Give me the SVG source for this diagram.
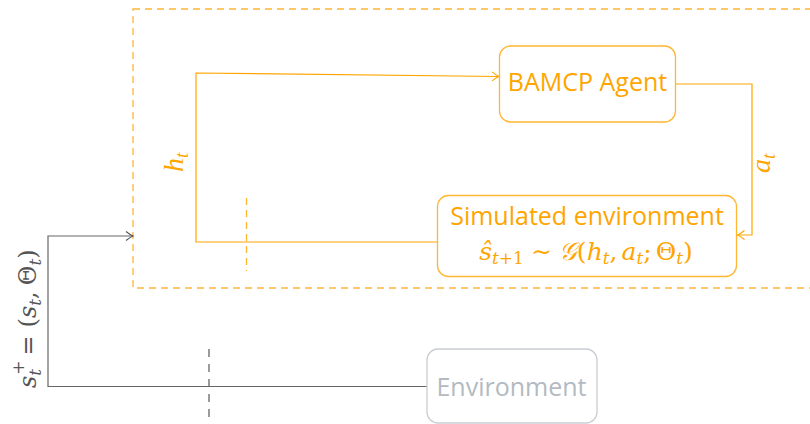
<svg xmlns="http://www.w3.org/2000/svg" width="810" height="424" viewBox="0 0 810 424">
  <defs>
    <style>
      .node-o { fill: #ffffff; stroke: #FFB733; stroke-width: 1.3; }
      .node-g { fill: #ffffff; stroke: #C9CED3; stroke-width: 1.3; }
      .lbl { font-family: "Open Sans", "Noto Sans", sans-serif; text-anchor: middle; }
      .lbl-o { fill: #FFA500; }
      .lbl-g { fill: #B3BAC1; }
      .math { font-family: "Liberation Serif", "DejaVu Serif", serif; }
      .math-w { font-family: "DejaVu Serif", "Liberation Serif", serif; }
      .mi { font-style: italic; }
      .wire-o { fill: none; stroke: #FFA500; stroke-width: 1.2; }
      .wire-g { fill: none; stroke: #666666; stroke-width: 1.2; }
      .dash-o { fill: none; stroke: #FFB733; stroke-width: 1.3; stroke-dasharray: 7 5; }
      .dash-g { fill: none; stroke: #666666; stroke-width: 1.3; stroke-dasharray: 8 7; }
    </style>
    <marker id="tip-o" markerUnits="userSpaceOnUse" markerWidth="12" markerHeight="12" viewBox="-9 -6 10 12" refX="0" refY="0" orient="auto">
      <path d="M-7,-4.5 Q-2.5,-1 0,0 Q-2.5,1 -7,4.5" fill="none" stroke="#FFA500" stroke-width="1.1"/>
    </marker>
    <marker id="tip-g" markerUnits="userSpaceOnUse" markerWidth="12" markerHeight="12" viewBox="-9 -6 10 12" refX="0" refY="0" orient="auto">
      <path d="M-7,-4.5 Q-2.5,-1 0,0 Q-2.5,1 -7,4.5" fill="none" stroke="#555555" stroke-width="1.1"/>
    </marker>
  </defs>

  <rect width="810" height="424" fill="#ffffff"/>

  <!-- simulation boundary (dashed, open to the right) -->
  <rect id="sim-boundary" class="dash-o" x="133" y="9" width="700" height="279"/>

  <!-- connectors -->
  <g id="connectors">
    <!-- history h_t into agent -->
    <path class="wire-o" d="M437,242 H196 V73 L499,76.5" marker-end="url(#tip-o)"/>
    <!-- action a_t into simulator -->
    <path class="wire-o" d="M676,84 H752 V235 H737.5" marker-end="url(#tip-o)"/>
    <!-- real state into simulation -->
    <path class="wire-g" d="M427,386.5 H48 V236 H133" marker-end="url(#tip-g)"/>
    <!-- cut markers -->
    <line class="dash-o" x1="246.5" y1="198" x2="246.5" y2="271"/>
    <line class="dash-g" x1="209" y1="349" x2="209" y2="424"/>

    <!-- edge labels -->
    <text class="math mi" font-size="28" fill="#FFA500" transform="translate(183,172) rotate(-90)">h<tspan font-size="19" dy="5">t</tspan></text>
    <text class="math mi" font-size="28" fill="#FFA500" transform="translate(770,173) rotate(-90)">a<tspan font-size="19" dy="5">t</tspan></text>
    <text class="math-w" font-size="24" fill="#555555" transform="translate(36,388) rotate(-90)"><tspan class="mi">s</tspan><tspan class="mi" font-size="17" dy="5">t</tspan><tspan font-size="17" dx="-6" dy="-17">+</tspan><tspan dy="12" dx="5">=</tspan><tspan dx="8">(</tspan><tspan class="mi">s</tspan><tspan class="mi" font-size="17" dy="5">t</tspan><tspan dy="-5">,</tspan><tspan dx="6">Θ</tspan><tspan class="mi" font-size="17" dy="5">t</tspan><tspan dy="-5">)</tspan></text>
  </g>

  <!-- agent node -->
  <g id="bamcp-agent">
    <rect class="node-o" x="499.5" y="46" width="176" height="76" rx="11"/>
    <text class="lbl lbl-o" x="587.5" y="91" font-size="25">BAMCP Agent</text>
  </g>

  <!-- simulated environment node -->
  <g id="simulated-environment">
    <rect class="node-o" x="437.5" y="195.5" width="299" height="81" rx="11"/>
    <text class="lbl lbl-o" x="587" y="225" font-size="25">Simulated environment</text>
    <text class="math-w" x="586" y="260" font-size="25" fill="#FFA500" text-anchor="middle"><tspan class="mi">ŝ</tspan><tspan class="mi" font-size="17" dy="4">t</tspan><tspan font-size="17">+1</tspan><tspan dy="-4" dx="7">∼</tspan><tspan class="mi" dx="7">𝒢</tspan>(<tspan class="mi">h</tspan><tspan class="mi" font-size="17" dy="4">t</tspan><tspan dy="-4">,</tspan><tspan class="mi" dx="4">a</tspan><tspan class="mi" font-size="17" dy="4">t</tspan><tspan dy="-4">;</tspan><tspan dx="4">Θ</tspan><tspan class="mi" font-size="17" dy="4">t</tspan><tspan dy="-4">)</tspan></text>
  </g>

  <!-- real environment node -->
  <g id="environment">
    <rect class="node-g" x="427" y="349" width="170" height="74" rx="11"/>
    <text class="lbl lbl-g" x="511.5" y="396" font-size="25">Environment</text>
  </g>
</svg>
